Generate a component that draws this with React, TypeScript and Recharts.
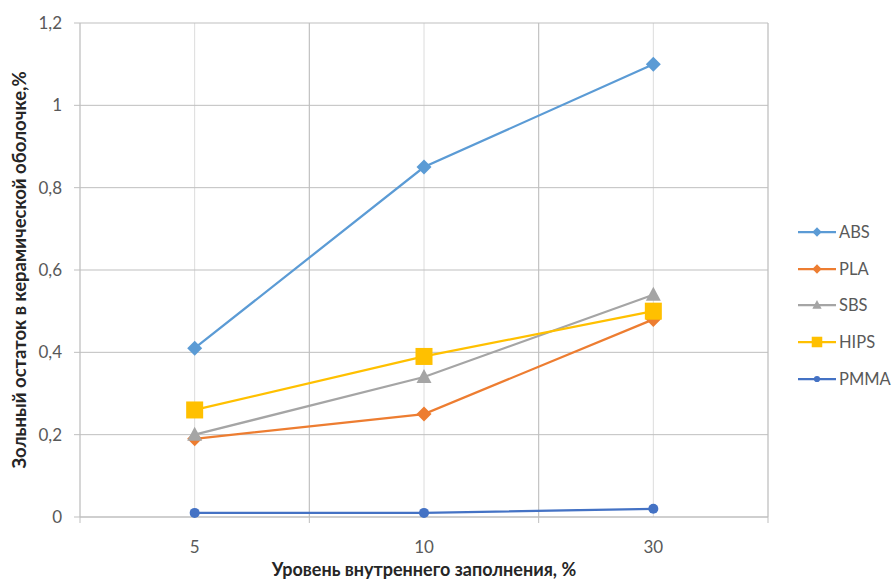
import React from 'react';
import {
  LineChart,
  Line,
  XAxis,
  YAxis,
  CartesianGrid,
  ReferenceLine,
} from 'recharts';

// x categories (infill level, %)
const categories = ['5', '10', '30'];

// ash residue, %
const absValues = [0.41, 0.85, 1.1];
const plaValues = [0.19, 0.25, 0.48];
const sbsValues = [0.2, 0.34, 0.54];
const hipsValues = [0.26, 0.39, 0.5];
const pmmaValues = [0.01, 0.01, 0.02];

const yTicks = [0, 0.2, 0.4, 0.6, 0.8, 1, 1.2];
// categories sit on odd slots, boundaries on even slots
const xSlots = [0, 1, 2, 3, 4, 5, 6];

const FONT = 'Lato, "Open Sans", "DejaVu Sans", sans-serif';

type Shape = 'diamond' | 'triangle' | 'square' | 'circle';

const seriesList: { key: string; name: string; color: string; shape: Shape; values: number[] }[] = [
  { key: 'abs', name: 'ABS', color: '#5B9BD5', shape: 'diamond', values: absValues },
  { key: 'pla', name: 'PLA', color: '#ED7D31', shape: 'diamond', values: plaValues },
  { key: 'sbs', name: 'SBS', color: '#A5A5A5', shape: 'triangle', values: sbsValues },
  { key: 'hips', name: 'HIPS', color: '#FFC000', shape: 'square', values: hipsValues },
  { key: 'pmma', name: 'PMMA', color: '#4472C4', shape: 'circle', values: pmmaValues },
];

const data = categories.map((c, i) => {
  const row: any = { x: i * 2 + 1, label: c };
  seriesList.forEach(s => {
    row[s.key] = s.values[i];
  });
  return row;
});

const Marker = ({ cx, cy, shape, color, scale = 1 }: any) => {
  if (cx == null || cy == null) return null;
  if (shape === 'diamond') {
    const r = 7.5 * scale;
    return <path d={`M${cx},${cy - r}L${cx + r},${cy}L${cx},${cy + r}L${cx - r},${cy}Z`} fill={color} />;
  }
  if (shape === 'triangle') {
    const w = 7.5 * scale;
    return <path d={`M${cx},${cy - 8 * scale}L${cx + w},${cy + 6 * scale}L${cx - w},${cy + 6 * scale}Z`} fill={color} />;
  }
  if (shape === 'square') {
    const h = 8.5 * scale;
    return <rect x={cx - h} y={cy - h} width={h * 2} height={h * 2} fill={color} />;
  }
  return <circle cx={cx} cy={cy} r={5 * scale} fill={color} />;
};

const XTick = (props: any) => {
  const { x, y, payload } = props;
  const v = payload.value;
  if (v % 2 === 0) {
    return <line x1={x} y1={y} x2={x} y2={y + 6} stroke="#bfbfbf" strokeWidth={1} />;
  }
  const label = categories[(v - 1) / 2];
  return (
    <text x={x} y={y + 29} textAnchor="middle" dominantBaseline="central" fill="#595959" fontSize={17} fontFamily={FONT}>
      {label}
    </text>
  );
};

const YTitle = (props: any) => {
  const { viewBox } = props;
  const cy = viewBox.y + viewBox.height / 2;
  const cx = 19;
  return (
    <text
      x={cx}
      y={cy}
      transform={`rotate(-90, ${cx}, ${cy})`}
      textAnchor="middle"
      dominantBaseline="central"
      fill="#262626"
      fontSize={18.5}
      fontWeight="bold"
      fontFamily={FONT}
    >
      Зольный остаток в керамической оболочке,%
    </text>
  );
};

const Legend = () => (
  <div style={{ position: 'absolute', left: 796, top: 214, fontFamily: FONT }}>
    {seriesList.map(s => (
      <div key={s.key} style={{ display: 'flex', alignItems: 'center', height: 36.6 }}>
        <svg width={42} height={20} style={{ display: 'block' }}>
          <line x1={2} y1={10} x2={40} y2={10} stroke={s.color} strokeWidth={2.25} />
          <Marker cx={21} cy={10} shape={s.shape} color={s.color} scale={0.62} />
        </svg>
        <span style={{ fontSize: 16.5, color: '#595959', marginLeft: 1 }}>{s.name}</span>
      </div>
    ))}
  </div>
);

export default function App() {
  return (
    <div style={{ position: 'fixed', left: 0, top: 0, width: 896, height: 580, background: '#fff', overflow: 'hidden' }}>
      <LineChart width={896} height={580} data={data} margin={{ top: 23, right: 128, bottom: 23, left: 20 }}>
        <CartesianGrid horizontal={false} stroke="#dcdcdc" />
        <CartesianGrid vertical={false} stroke="#bfbfbf" />
        {[2, 4, 6].map(v => (
          <ReferenceLine key={v} x={v} stroke="#bfbfbf" strokeWidth={1} ifOverflow="extendDomain" />
        ))}
        <XAxis
          dataKey="x"
          type="number"
          domain={[0, 6]}
          ticks={xSlots}
          interval={0}
          height={40}
          tickLine={false}
          tickSize={0}
          tickMargin={0}
          axisLine={{ stroke: '#bfbfbf' }}
          tick={<XTick />}
        />
        <YAxis
          type="number"
          domain={[0, 1.2]}
          ticks={yTicks}
          width={60}
          tickSize={6}
          tickMargin={12}
          tickLine={{ stroke: '#bfbfbf' }}
          axisLine={{ stroke: '#bfbfbf' }}
          tick={{ fill: '#595959', fontSize: 17, fontFamily: FONT }}
          tickFormatter={(v: number) => String(v).replace('.', ',')}
          label={<YTitle />}
        />
        {seriesList.map(s => (
          <Line
            key={s.key}
            dataKey={s.key}
            name={s.name}
            stroke={s.color}
            strokeWidth={2.25}
            isAnimationActive={false}
            dot={(p: any) => <Marker key={`${s.key}-${p.index}`} cx={p.cx} cy={p.cy} shape={s.shape} color={s.color} />}
            activeDot={false}
          />
        ))}
      </LineChart>
      <div
        style={{
          position: 'absolute',
          left: 80,
          width: 688,
          top: 559,
          lineHeight: '20px',
          textAlign: 'center',
          fontFamily: FONT,
          fontWeight: 'bold',
          fontSize: 18,
          color: '#262626',
        }}
      >
        Уровень внутреннего заполнения, %
      </div>
      <Legend />
    </div>
  );
}
